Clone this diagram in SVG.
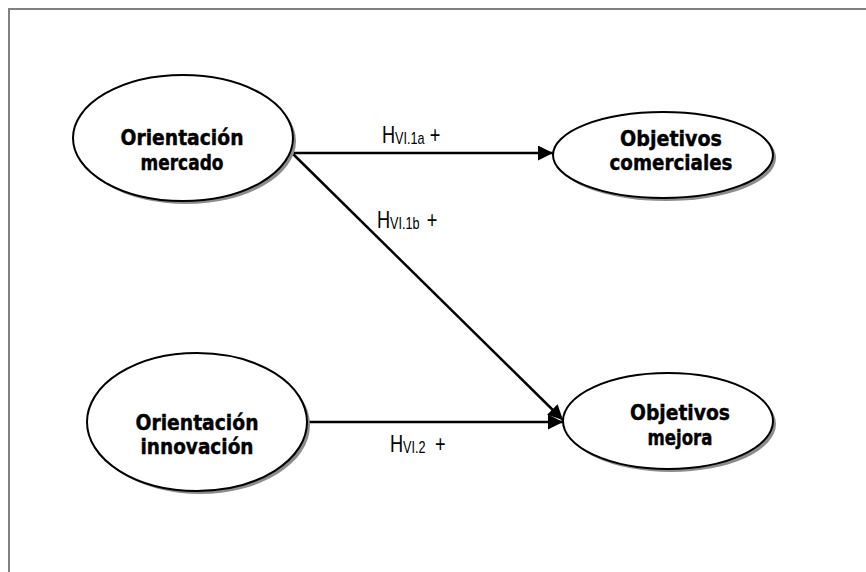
<svg xmlns="http://www.w3.org/2000/svg" width="866" height="572" viewBox="0 0 866 572">
  <style>
    .frame { fill: none; stroke: #808080; stroke-width: 2; }
    .shadow { fill: #8c8c8c; }
    .node { fill: #ffffff; stroke: #000000; stroke-width: 2; }
    .nlabel { font-family: "DejaVu Sans Condensed", "DejaVu Sans", sans-serif; font-weight: bold; font-size: 22px; fill: #000000; stroke: #000000; stroke-width: 0.4; text-anchor: middle; }
    .edge { stroke: #000000; stroke-width: 2.5; fill: none; marker-end: url(#arrow); }
    .elabel { font-family: "Liberation Sans", Arial, sans-serif; font-size: 23px; fill: #000000; }
    .sub { font-size: 16px; }
  </style>
  <defs>
    <marker id="arrow" viewBox="0 0 10 10" refX="10" refY="5" markerUnits="userSpaceOnUse" markerWidth="16" markerHeight="15" orient="auto">
      <path d="M0,0 L10,5 L0,10 Z" fill="#000000"/>
    </marker>
  </defs>

  <rect class="frame" x="9" y="9" width="900" height="600"/>

  <g id="connectors">
    <line class="edge" x1="293" y1="153" x2="553" y2="153"/>
    <line class="edge" x1="291" y1="152" x2="563" y2="420"/>
    <line class="edge" x1="307" y1="422" x2="563" y2="422"/>
    <!-- labels drawn in a narrowed coordinate system (x scaled 0.79) -->
    <g transform="translate(382,143) scale(0.79,1)">
      <text class="elabel" x="0" y="0">H</text>
      <text class="elabel sub" x="16.6" y="1">VI.1a</text>
      <text class="elabel" x="60.5" y="0">+</text>
    </g>
    <g transform="translate(377,228) scale(0.79,1)">
      <text class="elabel" x="0" y="0">H</text>
      <text class="elabel sub" x="16.6" y="1">VI.1b</text>
      <text class="elabel" x="63" y="0">+</text>
    </g>
    <g transform="translate(390,452) scale(0.79,1)">
      <text class="elabel" x="0" y="0">H</text>
      <text class="elabel sub" x="16.6" y="1">VI.2</text>
      <text class="elabel" x="57" y="0">+</text>
    </g>
  </g>

  <g id="orientacion-mercado">
    <ellipse class="shadow" cx="186" cy="141" rx="110" ry="63"/>
    <ellipse class="node" cx="183" cy="138" rx="110" ry="63"/>
    <text class="nlabel" x="182" y="145" textLength="123" lengthAdjust="spacingAndGlyphs">Orientación</text>
    <text class="nlabel" x="182" y="170" textLength="83" lengthAdjust="spacingAndGlyphs">mercado</text>
  </g>

  <g id="objetivos-comerciales">
    <ellipse class="shadow" cx="666" cy="158" rx="110" ry="43"/>
    <ellipse class="node" cx="663" cy="155" rx="110" ry="43"/>
    <text class="nlabel" x="671" y="146" textLength="102" lengthAdjust="spacingAndGlyphs">Objetivos</text>
    <text class="nlabel" x="671" y="170" textLength="123" lengthAdjust="spacingAndGlyphs">comerciales</text>
  </g>

  <g id="orientacion-innovacion">
    <ellipse class="shadow" cx="200" cy="425" rx="110" ry="69"/>
    <ellipse class="node" cx="197" cy="422" rx="110" ry="69"/>
    <text class="nlabel" x="197" y="430" textLength="123" lengthAdjust="spacingAndGlyphs">Orientación</text>
    <text class="nlabel" x="197" y="454" textLength="113" lengthAdjust="spacingAndGlyphs">innovación</text>
  </g>

  <g id="objetivos-mejora">
    <ellipse class="shadow" cx="671" cy="424" rx="105" ry="48"/>
    <ellipse class="node" cx="668" cy="421" rx="105" ry="48"/>
    <text class="nlabel" x="680" y="420" textLength="100" lengthAdjust="spacingAndGlyphs">Objetivos</text>
    <text class="nlabel" x="680" y="445" textLength="65" lengthAdjust="spacingAndGlyphs">mejora</text>
  </g>
</svg>
